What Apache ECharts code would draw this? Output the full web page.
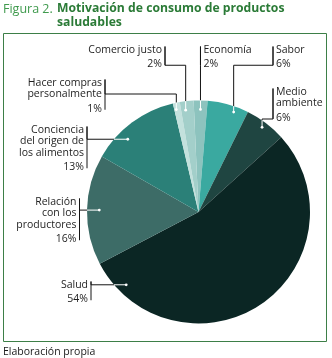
<!DOCTYPE html>
<html>
<head>
<meta charset="utf-8">
<script src="https://cdn.jsdelivr.net/npm/echarts@6/dist/echarts.min.js"></script>
<style>
  html, body { margin: 0; padding: 0; background: #ffffff; }
  #chart { width: 332px; height: 358px; }
</style>
</head>
<body>
<div id="chart"></div>
<script>
// Slices in clockwise order, starting just left of 12 o'clock
const categories = [
  'Economía', 'Sabor', 'Medio ambiente', 'Salud',
  'Relación con los productores', 'Conciencia del origen de los alimentos',
  'Hacer compras personalmente', 'Comercio justo'
];
const labelText = [
  ['Economía'], ['Sabor'], ['Medio', 'ambiente'], ['Salud'],
  ['Relación', 'con los', 'productores'], ['Conciencia', 'del origen de', 'los alimentos'],
  ['Hacer compras', 'personalmente'], ['Comercio justo']
];
const shares = [2, 6, 6, 54, 16, 13, 1, 2];
const sliceColors = ['#8dc3be', '#3aa9a0', '#1f4541', '#0b2624', '#3d6c67', '#2b8078', '#c3e1dd', '#a3cfca'];

const titleLead = 'Figura 2.';
const titleMain = 'Motivación de consumo de productos\nsaludables';
const sourceNote = 'Elaboración propia';

// Pie geometry: centre, radius and start angle (degrees clockwise from 12 o'clock)
const PIE = { cx: 198.5, cy: 212, r: 111.5, start: -2.5 };
const FONT = 'Open Sans';

// Callout for each slice: anchor position inside the slice (t along the arc, rf of radius),
// first run of the leader (v = vertical, h = horizontal), bar x, label top, text side, elbow y
const callouts = [
  { t: 0.50, rf: 0.92, dir: 'v', bar: null, top: 44,  side: 'right', elbow: 'bottom' },
  { t: 0.68, rf: 0.95, dir: 'v', bar: 273,  top: 44,  side: 'right', elbow: 'bottom' },
  { t: 0.49, rf: 0.95, dir: 'v', bar: 273,  top: 86,  side: 'right', elbow: 119 },
  { t: 0.91, rf: 0.92, dir: 'h', bar: 91,   top: 279, side: 'left' },
  { t: 0.50, rf: 0.89, dir: 'h', bar: 79.5, top: 196, side: 'left' },
  { t: 0.34, rf: 0.91, dir: 'h', bar: 87,   top: 124, side: 'left' },
  { t: 0.30, rf: 0.94, dir: 'v', bar: 105,  top: 77,  side: 'left',  elbow: 94 },
  { t: 0.35, rf: 0.92, dir: 'v', bar: 165,  top: 44,  side: 'left',  elbow: 'bottom' }
];

const total = shares.reduce((a, b) => a + b, 0);

function anchorPoint(i) {
  let cum = 0;
  for (let k = 0; k < i; k++) cum += shares[k];
  const a0 = PIE.start + 360 * cum / total;
  const a1 = a0 + 360 * shares[i] / total;
  const th = (a0 + (a1 - a0) * callouts[i].t) * Math.PI / 180;
  const rr = PIE.r * callouts[i].rf;
  return [PIE.cx + rr * Math.sin(th), PIE.cy - rr * Math.cos(th)];
}

// Where the first run of the leader leaves the pie
function edgePoint(i) {
  const [ax, ay] = anchorPoint(i);
  if (callouts[i].dir === 'v') {
    return [ax, PIE.cy - Math.sqrt(PIE.r * PIE.r - (ax - PIE.cx) * (ax - PIE.cx))];
  }
  return [PIE.cx - Math.sqrt(PIE.r * PIE.r - (ay - PIE.cy) * (ay - PIE.cy)), ay];
}

function labelLayout(params) {
  const i = params.dataIndex;
  const c = callouts[i];
  const [ax, ay] = anchorPoint(i);
  const edge = edgePoint(i);
  const barX = c.bar == null ? ax : c.bar;
  const h = params.labelRect.height;
  const barTop = c.top + 2.5;
  const barBottom = c.top + h - 4.5;
  const pts = [edge];
  if (c.dir === 'v') {
    const ey = c.elbow === 'bottom' ? barBottom : c.elbow;
    pts.push([ax, ey], [barX, ey]);
  } else {
    pts.push([barX, ay]);
  }
  pts.push([barX, barTop], [barX, barBottom]);
  return {
    x: c.side === 'left' ? barX - 3 : barX + 3,
    y: c.top,
    align: c.side === 'left' ? 'right' : 'left',
    verticalAlign: 'top',
    labelLinePoints: pts
  };
}

// White leader ends and dots inside the slices
const innerMarks = [];
shares.forEach((_, i) => {
  const a = anchorPoint(i);
  const e = edgePoint(i);
  innerMarks.push({
    type: 'line', z: 100, silent: true,
    shape: { x1: a[0], y1: a[1], x2: e[0], y2: e[1] },
    style: { stroke: '#ffffff', lineWidth: 1 }
  });
  innerMarks.push({
    type: 'circle', z: 101, silent: true,
    shape: { cx: a[0], cy: a[1], r: 1.4 },
    style: { fill: '#ffffff' }
  });
});

const chart = echarts.init(document.getElementById('chart'), null, { renderer: 'canvas' });

chart.setOption({
  animation: false,
  title: [
    { text: titleLead, left: 3, top: 1, padding: 0,
      textStyle: { fontFamily: FONT, fontSize: 12.5, fontWeight: 'normal', color: '#3f9a4d', lineHeight: 16 } },
    { text: titleMain, left: 57, top: 2, padding: 0,
      textStyle: { fontFamily: FONT, fontSize: 12.2, fontWeight: 'bold', color: '#2b7b37', lineHeight: 14 } },
    { text: sourceNote, left: 3, top: 346, padding: 0,
      textStyle: { fontFamily: FONT, fontSize: 10.5, fontWeight: 'normal', color: '#1a1a1a', lineHeight: 12 } }
  ],
  graphic: [
    { type: 'rect', z: 0, silent: true,
      shape: { x: 3.5, y: 33.5, width: 323, height: 308 },
      style: { fill: 'none', stroke: '#3d7f47', lineWidth: 1 } }
  ].concat(innerMarks),
  series: [{
    type: 'pie',
    center: [PIE.cx, PIE.cy],
    radius: PIE.r,
    startAngle: 90 - PIE.start,
    clockwise: true,
    avoidLabelOverlap: false,
    silent: true,
    emphasis: { disabled: true },
    label: {
      show: true,
      position: 'outside',
      overflow: 'none',
      fontFamily: FONT,
      formatter: p => labelText[p.dataIndex].map(s => '{n|' + s + '}').join('\n') + '\n{p|' + p.value + '%}',
      rich: {
        n: { fontFamily: FONT, fontSize: 10.5, lineHeight: 11.5, color: '#1e1e1e' },
        p: { fontFamily: FONT, fontSize: 10.5, lineHeight: 18, color: '#1e1e1e' }
      }
    },
    labelLine: { show: true, smooth: false, lineStyle: { color: '#141414', width: 1 } },
    labelLayout: labelLayout,
    data: categories.map((name, i) => ({
      name: name,
      value: shares[i],
      itemStyle: { color: sliceColors[i] }
    }))
  }]
});
</script>
</body>
</html>
